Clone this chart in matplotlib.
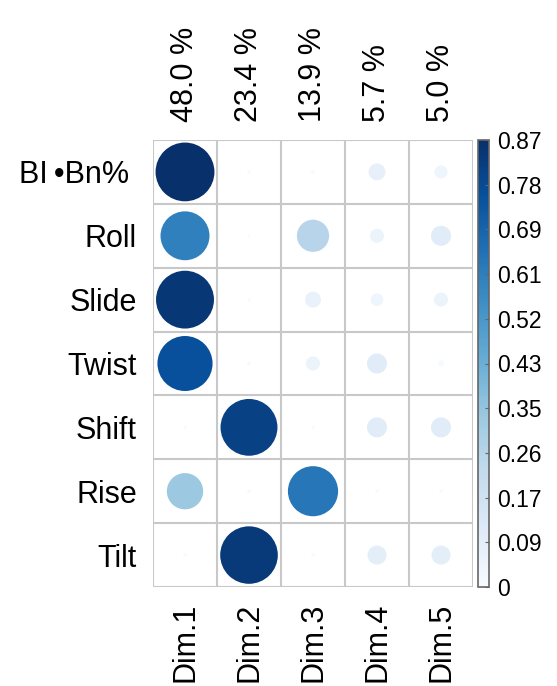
import numpy as np
import matplotlib
matplotlib.use("Agg")
import matplotlib.pyplot as plt
from matplotlib.patches import Circle
from matplotlib.collections import PatchCollection
import matplotlib.colors as mcolors
import matplotlib.transforms as mtransforms

plt.rcParams['font.family'] = ['Liberation Sans', 'DejaVu Sans']

# variables (rows) and principal dimensions (columns)
variables = ["BI\u2009\u2022Bn%", "Roll", "Slide", "Twist", "Shift", "Rise", "Tilt"]
dims = ["Dim.1", "Dim.2", "Dim.3", "Dim.4", "Dim.5"]
variance = ["48.0 %", "23.4 %", "13.9 %", "5.7 %", "5.0 %"]

# cos2 of each variable on each dimension
dim1 = [0.867, 0.60, 0.84, 0.76, 0.003, 0.33, 0.003]
dim2 = [0.003, 0.002, 0.003, 0.004, 0.81, 0.004, 0.83]
dim3 = [0.004, 0.26, 0.064, 0.05, 0.003, 0.63, 0.003]
dim4 = [0.072, 0.05, 0.04, 0.10, 0.10, 0.003, 0.09]
dim5 = [0.043, 0.10, 0.05, 0.01, 0.10, 0.003, 0.09]

cmax = 0.867
cbar_ticks = np.linspace(0, cmax, 11)

values = np.column_stack([dim1, dim2, dim3, dim4, dim5])
nrow, ncol = values.shape

W, H = 557, 686
fig = plt.figure(figsize=(W / 100, H / 100), dpi=100)
ax = fig.add_axes([153 / W, 1 - 587 / H, 320 / W, 447 / H])

cmap = plt.get_cmap("Blues")
norm = mcolors.Normalize(vmin=0, vmax=cmax)

patches = []
colors = []
for i in range(nrow):
    for j in range(ncol):
        v = values[i, j]
        r = 0.46 * np.sqrt(v / cmax)
        patches.append(Circle((j + 0.5, i + 0.5), r))
        colors.append(v)
pc = PatchCollection(patches, cmap=cmap, norm=norm, edgecolor="none")
pc.set_array(np.array(colors))
ax.add_collection(pc)

# cell grid
for k in range(ncol + 1):
    ax.axvline(k, color="#c8c8c8", lw=1.5, zorder=0)
for k in range(nrow + 1):
    ax.axhline(k, color="#c8c8c8", lw=1.5, zorder=0)

ax.set_xlim(0, ncol)
ax.set_ylim(nrow, 0)
for s in ax.spines.values():
    s.set_visible(False)

ax.set_xticks(np.arange(ncol) + 0.5)
ax.set_xticklabels(dims, rotation=90, fontsize=22)
ax.set_yticks(np.arange(nrow) + 0.5)
ax.set_yticklabels(variables, fontsize=22)
ax.tick_params(axis="x", length=0, pad=11)
ax.tick_params(axis="y", length=0, pad=11.5)

# the first row label sits a little further from the grid
first = ax.get_yticklabels()[0]
first.set_transform(first.get_transform() +
                    mtransforms.ScaledTranslation(-8 / 100, 0, fig.dpi_scale_trans))

top = ax.secondary_xaxis("top")
top.set_xticks(np.arange(ncol) + 0.5)
top.set_xticklabels(variance, rotation=90, fontsize=22)
top.tick_params(length=0, pad=13)
for s in top.spines.values():
    s.set_visible(False)

# colour legend
cax = fig.add_axes([478 / W, 1 - 587 / H, 11 / W, 447 / H])
sm = plt.cm.ScalarMappable(cmap=cmap, norm=norm)
cb = fig.colorbar(sm, cax=cax)
cb.set_ticks(cbar_ticks)
cb.set_ticklabels(["0"] + ["%.2f" % t for t in cbar_ticks[1:]])
cb.outline.set_edgecolor("#666666")
cb.outline.set_linewidth(1.2)
cax.tick_params(labelsize=16.5, direction="in", length=3, color="#666666", pad=6)

fig.savefig("out.png", dpi=100)
